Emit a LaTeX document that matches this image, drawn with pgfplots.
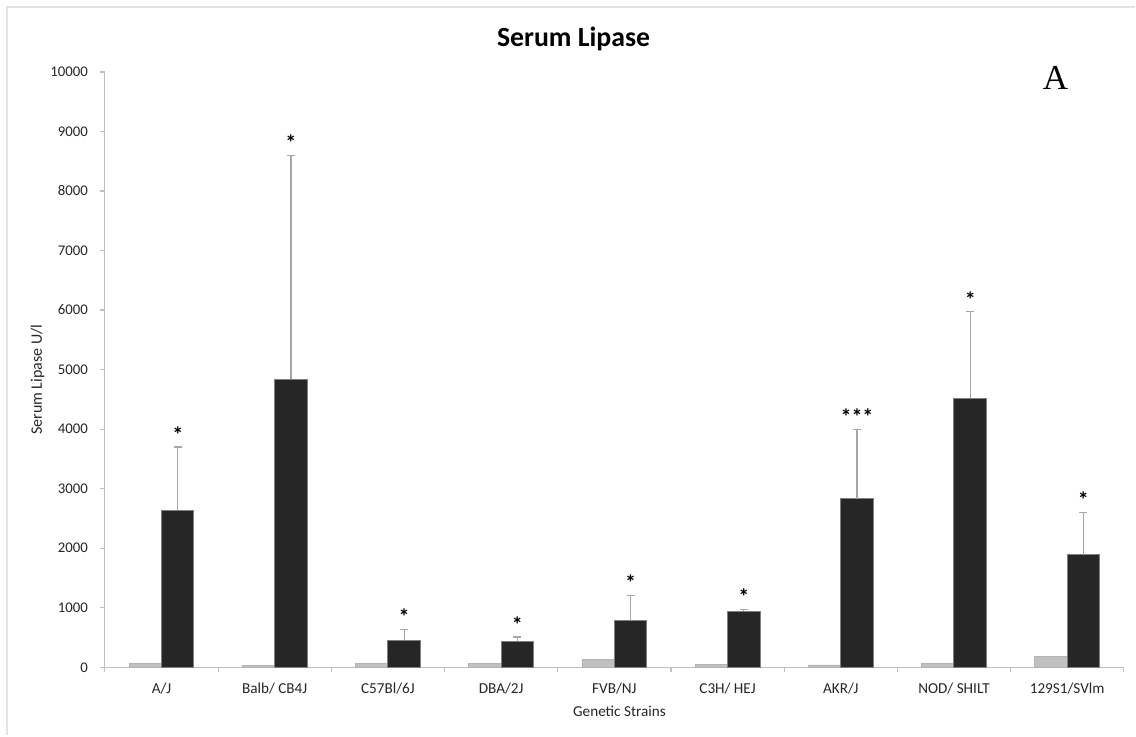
\documentclass[border=0pt]{standalone}
\usepackage{pgfplots}
\pgfplotsset{compat=1.18}
\usepackage{fontspec}
\setmainfont{Carlito}
\newfontfamily\serifA{Liberation Serif}

\definecolor{darkbar}{HTML}{262626}
\definecolor{darkedge}{HTML}{7F7F7F}
\definecolor{lightbar}{HTML}{C0C0C0}
\definecolor{lightedge}{HTML}{B4B4B4}
\definecolor{axisgray}{HTML}{BFBFBF}
\definecolor{errgray}{HTML}{A6A6A6}
\definecolor{framegray}{HTML}{E3E3E3}

\tikzset{stars/.style={font=\bfseries\fontsize{11pt}{11pt}\selectfont, inner sep=0pt, anchor=center, yshift=6.3pt}}

\begin{document}
\begin{tikzpicture}
% page area (1 unit = 0.5pt per pixel of the 1136x736 layout)
\path (0,0) rectangle (568pt,368pt);
% outer chart frame (top and left edges)
\draw[framegray, line width=1.2pt] (3.5pt,0pt) -- (3.5pt,364.5pt) -- (568pt,364.5pt);

\begin{axis}[
  at={(52.5pt,34pt)}, anchor=south west,
  scale only axis,
  width=510pt, height=298pt,
  xmin=-0.5, xmax=8.5,
  ymin=0, ymax=10000,
  enlargelimits=false,
  clip=false,
  axis lines*=left,
  axis line style={draw=axisgray, line width=0.6pt},
  ybar=0pt, bar width=16.25pt,
  xtick={0,...,8},
  xticklabels={A/J, Balb/ CB4J, C57Bl/6J, DBA/2J, FVB/NJ, C3H/ HEJ, AKR/J, NOD/ SHILT, 129S1/SVlm},
  major x tick style={draw=none},
  minor xtick={-0.5,0.5,1.5,2.5,3.5,4.5,5.5,6.5,7.5,8.5},
  minor tick length=2.5pt,
  minor x tick style={draw=axisgray, line width=0.6pt},
  ytick={0,1000,...,10000},
  major tick length=2.5pt,
  tick align=outside,
  y tick style={draw=axisgray, line width=0.6pt},
  scaled y ticks=false,
  /pgf/number format/assume math mode=true,
  yticklabel={\pgfmathprintnumber[fixed,1000 sep={}]{\tick}},
  yticklabel style={font=\fontsize{7.4pt}{8pt}\selectfont, text=black!85, xshift=-2.5pt},
  xticklabel style={font=\fontsize{7.6pt}{8pt}\selectfont, text=black!85, yshift=-2pt},
  xlabel={Genetic Strains},
  xlabel style={font=\fontsize{7.6pt}{8pt}\selectfont, text=black!85, at={(axis description cs:0.505,-0.074)}, anchor=center},
  ylabel={Serum Lipase U/l},
  ylabel style={font=\fontsize{8pt}{9pt}\selectfont, text=black!85, at={(axis description cs:-0.066,0.483)}, anchor=center, rotate=0},
  error bars/error bar style={draw=errgray, line width=0.6pt},
  error bars/error mark options={rotate=90, mark size=2pt, draw=errgray, line width=0.6pt},
]

% control group
\addplot[fill=lightbar, draw=lightedge, line width=0.3pt] coordinates {
  (0,70) (1,30) (2,60) (3,65) (4,135) (5,45) (6,40) (7,70) (8,180)
};

% treated group, mean with upper error
\addplot[fill=darkbar, draw=darkedge, line width=0.5pt,
  error bars/.cd, y dir=plus, y explicit] coordinates {
  (0,2640) +- (0,1060)
  (1,4840) +- (0,3760)
  (2,450)  +- (0,190)
  (3,435)  +- (0,75)
  (4,780)  +- (0,430)
  (5,940)  +- (0,35)
  (6,2830) +- (0,1170)
  (7,4520) +- (0,1450)
  (8,1890) +- (0,710)
};

% significance markers above the error bars
\node[stars] at ([xshift=8.125pt]axis cs:0,3700) {*};
\node[stars] at ([xshift=8.125pt]axis cs:1,8600) {*};
\node[stars] at ([xshift=8.125pt]axis cs:2,640) {*};
\node[stars] at ([xshift=8.125pt]axis cs:3,510) {*};
\node[stars] at ([xshift=8.125pt]axis cs:4,1210) {*};
\node[stars] at ([xshift=8.125pt]axis cs:5,975) {*};
\node[stars] at ([xshift=8.125pt]axis cs:6,4000) {***};
\node[stars] at ([xshift=8.125pt]axis cs:7,5970) {*};
\node[stars] at ([xshift=8.125pt]axis cs:8,2600) {*};

% title and panel letter
\node[font=\bfseries\fontsize{13.9pt}{15pt}\selectfont, anchor=center]
  at (axis description cs:0.46,1.055) {Serum Lipase};
\node[font=\serifA\fontsize{17.5pt}{18pt}\selectfont, anchor=center]
  at (axis description cs:0.933,0.99) {A};
\end{axis}
\end{tikzpicture}
\end{document}
